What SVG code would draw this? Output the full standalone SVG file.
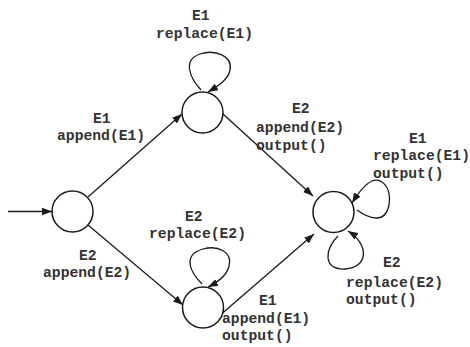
<svg xmlns="http://www.w3.org/2000/svg" width="470" height="347" viewBox="0 0 470 347">
  <style>
    .state { fill: #fff; stroke: #1a1a1a; stroke-width: 1.5; }
    .edge { fill: none; stroke: #1a1a1a; stroke-width: 1.3; marker-end: url(#arrow); }
    .lbl { font-family: "Liberation Mono", "Courier New", monospace; font-weight: bold; font-size: 14.7px; fill: #333; }
  </style>
  <defs>
    <marker id="arrow" markerUnits="userSpaceOnUse" markerWidth="11" markerHeight="8" refX="10" refY="3.75" orient="auto">
      <path d="M0,0 L10,3.75 L0,7.5 z" fill="#1a1a1a"/>
    </marker>
  </defs>

  <rect width="470" height="347" fill="#fff"/>

  <!-- transitions -->
  <g id="connectors">
    <path class="edge" d="M8,211.5 L52,211.5"/>
    <path class="edge" d="M88,197 L182,114"/>
    <path class="edge" d="M88,225 L183,305"/>
    <path class="edge" d="M223,114 L313,196"/>
    <path class="edge" d="M222,313.5 L314,234"/>
    <!-- self loops -->
    <path class="edge" d="M201,90 C190,78 182,60 200,54 C215,49 233,56 230,70 C228,80 218,86 208,92"/>
    <path class="edge" d="M202,284 C190,272 182,255 203,249 C218,245 233,252 229,266 C227,276 218,282 208,287"/>
    <path class="edge" d="M357,210 C368,218 385,225 389,205 C392,185 380,178 372,181 C365,184 357,195 352,203"/>
    <path class="edge" d="M338,236 C325,248 322,270 345,269 C368,268 370,245 348,231"/>
  </g>

  <!-- states -->
  <g id="s0"><circle class="state" cx="72.5" cy="211.5" r="20.5"/></g>
  <g id="s1"><circle class="state" cx="202.5" cy="112.5" r="20.5"/></g>
  <g id="s2"><circle class="state" cx="203" cy="307.5" r="20.5"/></g>
  <g id="s3"><circle class="state" cx="333.5" cy="212" r="20.5"/></g>

  <!-- transition labels -->
  <g id="labels">
    <text class="lbl" x="192" y="20">E1</text>
    <text class="lbl" x="156" y="38">replace(E1)</text>

    <text class="lbl" x="93" y="123">E1</text>
    <text class="lbl" x="57" y="140">append(E1)</text>

    <text class="lbl" x="292" y="113">E2</text>
    <text class="lbl" x="256" y="132">append(E2)</text>
    <text class="lbl" x="256" y="150">output()</text>

    <text class="lbl" x="409" y="143">E1</text>
    <text class="lbl" x="373" y="160">replace(E1)</text>
    <text class="lbl" x="373" y="178">output()</text>

    <text class="lbl" x="185" y="221">E2</text>
    <text class="lbl" x="149" y="238">replace(E2)</text>

    <text class="lbl" x="79" y="260">E2</text>
    <text class="lbl" x="43" y="277">append(E2)</text>

    <text class="lbl" x="383" y="267">E2</text>
    <text class="lbl" x="346" y="287">replace(E2)</text>
    <text class="lbl" x="346" y="304">output()</text>

    <text class="lbl" x="259" y="305">E1</text>
    <text class="lbl" x="222" y="323">append(E1)</text>
    <text class="lbl" x="222" y="340">output()</text>
  </g>
</svg>
